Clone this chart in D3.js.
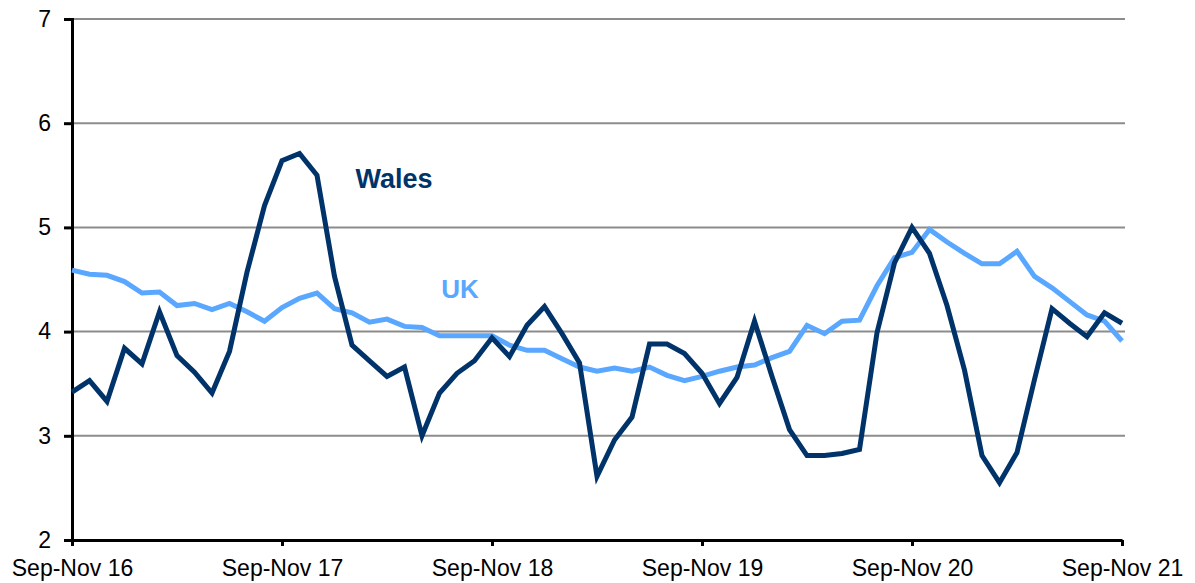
<!DOCTYPE html>
<meta charset="utf-8">
<script src="https://d3js.org/d3.v7.js"></script>
<style>
  body { margin: 0; background: #fff; }
  text { font-family: "Liberation Sans", Arial, sans-serif; }
</style>
<div id="chart"></div>
<script>

// tick labels, one every 12 months
const yearLabels = ["Sep-Nov 16", "Sep-Nov 17", "Sep-Nov 18", "Sep-Nov 19", "Sep-Nov 20", "Sep-Nov 21"];
const yTicks = [2, 3, 4, 5, 6, 7];

// rolling quarterly rate, monthly steps from Sep-Nov 16 to Sep-Nov 21
const wales = [
  3.42, 3.53, 3.33, 3.84, 3.69, 4.19, 3.77, 3.61, 3.41, 3.81,
  4.57, 5.21, 5.64, 5.71, 5.50, 4.53, 3.87, 3.72, 3.57, 3.66,
  3.00, 3.41, 3.60, 3.72, 3.94, 3.76, 4.06, 4.24, 3.98, 3.70,
  2.61, 2.96, 3.18, 3.88, 3.88, 3.79, 3.60, 3.31, 3.56, 4.10,
  3.57, 3.06, 2.81, 2.81, 2.83, 2.87, 3.99, 4.66, 5.00, 4.75,
  4.25, 3.63, 2.81, 2.55, 2.84, 3.54, 4.22, 4.08, 3.95, 4.18,
  4.08
];
const uk = [
  4.59, 4.55, 4.54, 4.48, 4.37, 4.38, 4.25, 4.27, 4.21, 4.27,
  4.19, 4.10, 4.23, 4.32, 4.37, 4.22, 4.18, 4.09, 4.12, 4.05,
  4.04, 3.96, 3.96, 3.96, 3.96, 3.87, 3.82, 3.82, 3.74, 3.66,
  3.62, 3.65, 3.62, 3.66, 3.58, 3.53, 3.57, 3.62, 3.66, 3.68,
  3.75, 3.81, 4.06, 3.98, 4.10, 4.11, 4.44, 4.71, 4.76, 4.98,
  4.86, 4.75, 4.65, 4.65, 4.77, 4.53, 4.42, 4.29, 4.16, 4.10,
  3.91
];

const W = 1195, H = 583;
const margin = {top: 19, right: 73, bottom: 43, left: 72};
const width = W - margin.left - margin.right,
      height = H - margin.top - margin.bottom;

const svg = d3.select("#chart")
  .append("svg")
    .attr("width", W)
    .attr("height", H)
  .append("g")
    .attr("transform", `translate(${margin.left},${margin.top})`);

const x = d3.scaleLinear()
  .domain([0, wales.length - 1])
  .range([0, width]);

const y = d3.scaleLinear()
  .domain([2, 7])
  .range([height, 0]);

// horizontal gridlines
svg.append("g")
  .selectAll("line")
  .data(yTicks.filter(d => d > 2))
  .join("line")
    .attr("x1", 0)
    .attr("x2", width + 3)
    .attr("y1", d => y(d))
    .attr("y2", d => y(d))
    .attr("stroke", "#8c8c8c")
    .attr("stroke-width", 2);

// y axis
const yAxis = svg.append("g")
  .call(d3.axisLeft(y).tickValues(yTicks).tickSize(8).tickPadding(13).tickFormat(d3.format("d")));
yAxis.select(".domain").attr("stroke", "#000").attr("stroke-width", 3);
yAxis.selectAll(".tick line").attr("stroke", "#000").attr("stroke-width", 3);
yAxis.selectAll("text")
  .attr("font-size", 23)
  .attr("fill", "#000")
  .attr("font-family", "Liberation Sans, Arial, sans-serif");

// x axis
const xAxis = svg.append("g")
  .attr("transform", `translate(0,${height})`)
  .call(d3.axisBottom(x)
    .tickValues(d3.range(0, wales.length, 12))
    .tickSize(6)
    .tickSizeOuter(0)
    .tickPadding(14)
    .tickFormat((d, i) => yearLabels[i]));
xAxis.select(".domain").attr("stroke", "#000").attr("stroke-width", 3);
xAxis.selectAll(".tick line").attr("stroke", "#000").attr("stroke-width", 3);
xAxis.selectAll("text")
  .attr("font-size", 23)
  .attr("fill", "#000")
  .attr("font-family", "Liberation Sans, Arial, sans-serif");

const line = d3.line()
  .x((d, i) => x(i))
  .y(d => y(d));

// UK line
svg.append("path")
  .datum(uk)
  .attr("fill", "none")
  .attr("stroke", "#5aa7ff")
  .attr("stroke-width", 5)
  .attr("stroke-linejoin", "miter")
  .attr("d", line);

// Wales line
svg.append("path")
  .datum(wales)
  .attr("fill", "none")
  .attr("stroke", "#003369")
  .attr("stroke-width", 5)
  .attr("stroke-linejoin", "miter")
  .attr("d", line);

// series labels
svg.append("text")
  .text("Wales")
  .attr("x", x(16.2))
  .attr("y", y(5.38))
  .attr("font-size", 27)
  .attr("font-weight", "bold")
  .attr("fill", "#003369");

svg.append("text")
  .text("UK")
  .attr("x", x(21.1))
  .attr("y", y(4.32))
  .attr("font-size", 26)
  .attr("font-weight", "bold")
  .attr("fill", "#5aa7ff");

</script>
